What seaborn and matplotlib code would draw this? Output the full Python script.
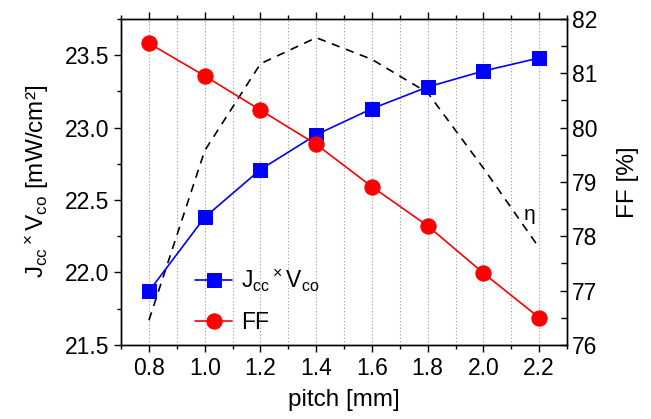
import numpy as np
import pandas as pd
import seaborn as sns
import matplotlib.pyplot as plt
from matplotlib.ticker import MultipleLocator

sns.set_style("ticks", {"axes.edgecolor": "black", "text.color": "black",
                        "xtick.color": "black", "ytick.color": "black",
                        "axes.labelcolor": "black"})
plt.rcParams['font.family'] = ['Liberation Sans', 'DejaVu Sans']
plt.rcParams['mathtext.fontset'] = 'custom'
plt.rcParams['mathtext.rm'] = 'Liberation Sans'
plt.rcParams['mathtext.it'] = 'Liberation Sans'

# data
pitch = [0.8, 1.0, 1.2, 1.4, 1.6, 1.8, 2.0, 2.2]
jv = [21.87, 22.38, 22.71, 22.95, 23.13, 23.28, 23.39, 23.48]
ff = [81.55, 80.95, 80.32, 79.69, 78.91, 78.19, 77.32, 76.50]
# eta only drawn as a shape, in left-axis units
eta = [21.67, 22.84, 23.44, 23.62, 23.47, 23.24, 22.72, 22.17]

df = pd.DataFrame({"pitch": pitch, "jv": jv, "ff": ff, "eta": eta})

fig = plt.figure(figsize=(6.51, 4.19), dpi=100)
ax = fig.add_axes([0.186, 0.177, 0.685, 0.778])
ax2 = ax.twinx()

lab = r"J$_\mathrm{cc}$$\,^{\times}\,$V$_\mathrm{co}$"
sns.lineplot(data=df, x="pitch", y="eta", ax=ax, color="black", lw=1.2,
             linestyle=(0, (5, 4)), legend=False)
sns.lineplot(data=df, x="pitch", y="jv", ax=ax, color="#0000ff", lw=1.2,
             marker="s", markersize=10, markeredgecolor="#0000ff", label=lab)
sns.lineplot(data=df, x="pitch", y="ff", ax=ax2, color="#ff0000", lw=1.2,
             marker="o", markersize=11, markeredgecolor="#ff0000", label="FF")

ax.set_xlim(0.7, 2.3)
ax.set_ylim(21.5, 23.75)
ax2.set_ylim(76, 82)

ax.xaxis.set_major_locator(MultipleLocator(0.2))
ax.xaxis.set_minor_locator(MultipleLocator(0.1))
ax.yaxis.set_major_locator(MultipleLocator(0.5))
ax.yaxis.set_minor_locator(MultipleLocator(0.25))
ax2.yaxis.set_major_locator(MultipleLocator(1))
ax2.yaxis.set_minor_locator(MultipleLocator(0.5))
ax.set_xticklabels([f"{v:.1f}" for v in ax.get_xticks()])

ax.xaxis.grid(True, which="both", linestyle=(0, (1, 2)), color="#999999", lw=0.8)
ax.yaxis.grid(False)

fs = 16.5
ax.tick_params(axis="x", which="both", direction="out", top=True, labelsize=fs)
ax.tick_params(axis="y", which="both", direction="out", labelsize=fs)
ax.tick_params(which="major", length=5, width=1)
ax.tick_params(which="minor", length=3, width=1)
ax2.tick_params(axis="y", which="both", direction="in", labelsize=fs, width=1)
ax2.tick_params(which="major", length=5)
ax2.tick_params(which="minor", length=4)
for a in (ax, ax2):
    for s in a.spines.values():
        s.set_linewidth(1.0)
        s.set_color("black")
        s.set_visible(True)

ax.set_xlabel("pitch [mm]", fontsize=17.5, labelpad=7)
ax.set_ylabel(r"J$_\mathrm{cc}$$\,^{\times}\,$V$_\mathrm{co}$ [mW/cm²]", fontsize=17.5,
              labelpad=10)
ax2.set_ylabel("FF [%]", fontsize=17.5, labelpad=14)

ax.text(2.165, 22.4, "η", fontsize=15, ha="center", va="center")

h1, l1 = ax.get_legend_handles_labels()
h2, l2 = ax2.get_legend_handles_labels()
if ax2.get_legend():
    ax2.get_legend().remove()
ax.legend(h1 + h2, l1 + l2, loc="lower left", bbox_to_anchor=(0.12, -0.03),
          frameon=False, fontsize=16.5, handlelength=1.6, labelspacing=0.75,
          handletextpad=0.4)

fig.savefig("out.png", dpi=100)
